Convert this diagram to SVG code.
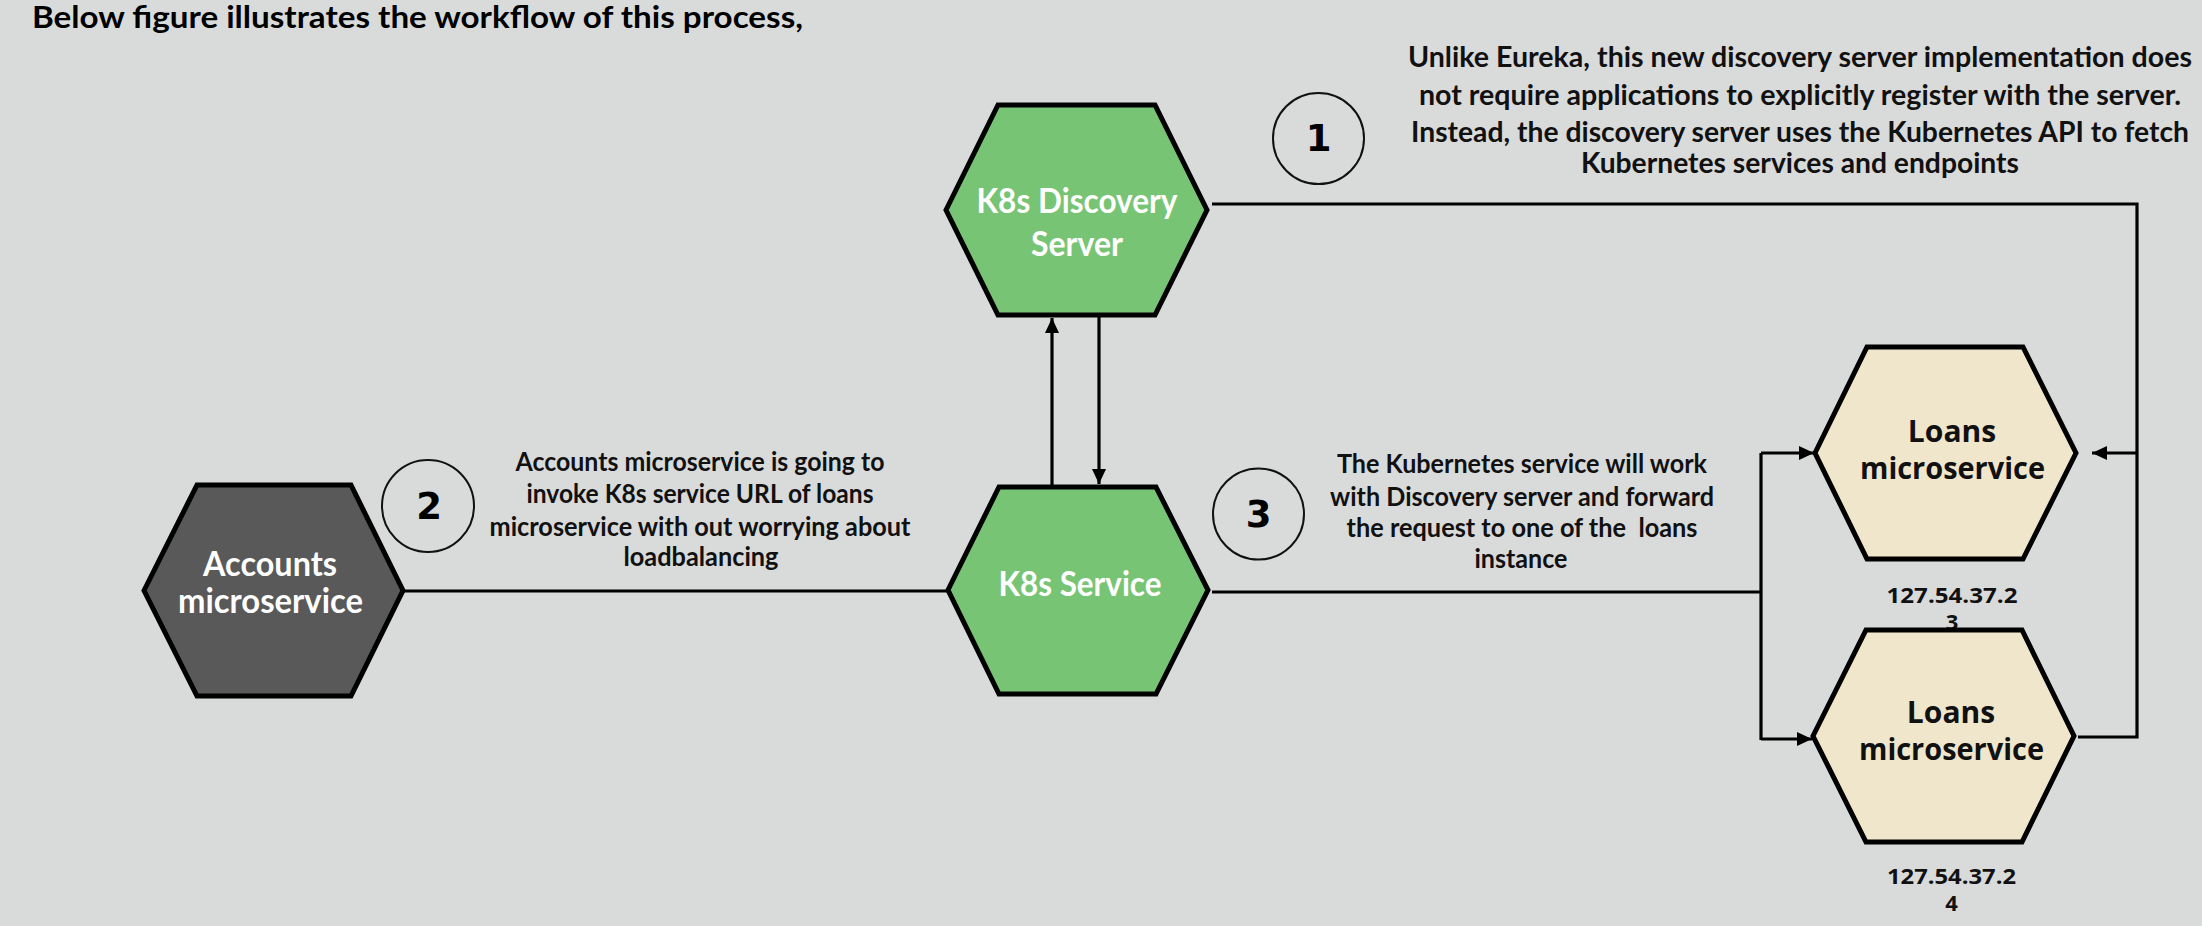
<svg xmlns="http://www.w3.org/2000/svg" width="2202" height="926" viewBox="0 0 2202 926">
  <style>
    .bg { fill: #d9dbda; }
    .hex { stroke: #000; stroke-width: 5; stroke-linejoin: miter; }
    .green { fill: #78c475; }
    .dark { fill: #595959; }
    .loan { fill: #f0e6cb; }
    .wtxt { font-family: Lato, "Liberation Sans", sans-serif; font-weight: bold; font-size: 34px; fill: #ffffff; text-anchor: middle; }
    .ltxt { font-family: "Open Sans", "DejaVu Sans", sans-serif; font-weight: bold; font-size: 30px; fill: #111; text-anchor: middle; }
    .ip { font-family: "Open Sans", "DejaVu Sans", sans-serif; font-weight: bold; font-size: 22px; fill: #111; text-anchor: middle; }
    .note { font-family: Lato, "Liberation Sans", sans-serif; font-weight: bold; font-size: 26px; fill: #111; text-anchor: middle; }
    .note1 { font-family: Lato, "Liberation Sans", sans-serif; font-weight: bold; font-size: 28px; fill: #111; text-anchor: middle; }
    .title { font-family: Lato, "Liberation Sans", sans-serif; font-weight: bold; font-size: 31px; fill: #000; }
    .num { fill: none; stroke: #111; stroke-width: 2; }
    .numtxt { font-family: "DejaVu Sans", sans-serif; font-weight: bold; font-size: 37px; fill: #000; text-anchor: middle; }
    .conn { fill: none; stroke: #000; stroke-width: 3.2; }
  </style>
  <defs>
    <marker id="arrow" markerUnits="userSpaceOnUse" markerWidth="15" markerHeight="14" refX="15" refY="7" orient="auto">
      <path d="M0,0 L15,7 L0,14 z" fill="#000"/>
    </marker>
  </defs>

  <rect class="bg" x="0" y="0" width="2202" height="926"/>

  <text class="title" x="32" y="28" textLength="771" lengthAdjust="spacingAndGlyphs">Below figure illustrates the workflow of this process,</text>

  <g id="connectors">
    <path class="conn" d="M1212,204 H2137 V737 H2078"/>
    <path class="conn" d="M2137,453 H2092" marker-end="url(#arrow)"/>
    <path class="conn" d="M403,591 H948"/>
    <path class="conn" d="M1212,592 H1761"/>
    <path class="conn" d="M1761,453 V740"/>
    <path class="conn" d="M1761,453 H1814" marker-end="url(#arrow)"/>
    <path class="conn" d="M1761,739 H1812" marker-end="url(#arrow)"/>
    <path class="conn" d="M1052,487 V318" marker-end="url(#arrow)"/>
    <path class="conn" d="M1099,316 V484" marker-end="url(#arrow)"/>
  </g>

  <g id="step1">
    <circle class="num" cx="1318.5" cy="138.5" r="45.5"/>
    <text class="numtxt" x="1318.5" y="151">1</text>
    <text class="note1" x="1800" y="67" textLength="784" lengthAdjust="spacingAndGlyphs">Unlike Eureka, this new discovery server implementation does</text>
    <text class="note1" x="1800" y="105" textLength="762" lengthAdjust="spacingAndGlyphs">not require applications to explicitly register with the server.</text>
    <text class="note1" x="1800" y="142" textLength="778" lengthAdjust="spacingAndGlyphs">Instead, the discovery server uses the Kubernetes API to fetch</text>
    <text class="note1" x="1800" y="173" textLength="438" lengthAdjust="spacingAndGlyphs">Kubernetes services and endpoints</text>
  </g>

  <g id="step2">
    <circle class="num" cx="428" cy="506" r="46"/>
    <text class="numtxt" x="429" y="519">2</text>
    <text class="note" x="700" y="471" textLength="369" lengthAdjust="spacingAndGlyphs">Accounts microservice is going to</text>
    <text class="note" x="700" y="503" textLength="347" lengthAdjust="spacingAndGlyphs">invoke K8s service URL of loans</text>
    <text class="note" x="700" y="536" textLength="421" lengthAdjust="spacingAndGlyphs">microservice with out worrying about</text>
    <text class="note" x="701" y="566" textLength="155" lengthAdjust="spacingAndGlyphs">loadbalancing</text>
  </g>

  <g id="step3">
    <circle class="num" cx="1258.5" cy="514" r="45.5"/>
    <text class="numtxt" x="1258.5" y="527">3</text>
    <text class="note" x="1522" y="473" textLength="370" lengthAdjust="spacingAndGlyphs">The Kubernetes service will work</text>
    <text class="note" x="1522" y="506" textLength="384" lengthAdjust="spacingAndGlyphs">with Discovery server and forward</text>
    <text class="note" x="1522" y="537" textLength="351" lengthAdjust="spacingAndGlyphs" style="white-space:pre">the request to one of the  loans</text>
    <text class="note" x="1521" y="568" textLength="93" lengthAdjust="spacingAndGlyphs">instance</text>
  </g>

  <g id="discovery-server">
    <polygon class="hex green" points="946,210 998,105 1155,105 1207,210 1155,315 998,315"/>
    <text class="wtxt" x="1077" y="213" textLength="201" lengthAdjust="spacingAndGlyphs">K8s Discovery</text>
    <text class="wtxt" x="1077" y="256" textLength="92" lengthAdjust="spacingAndGlyphs">Server</text>
  </g>

  <g id="k8s-service">
    <polygon class="hex green" points="948,590 999,487 1156,487 1208,590 1156,694 999,694"/>
    <text class="wtxt" x="1080" y="596" textLength="163" lengthAdjust="spacingAndGlyphs">K8s Service</text>
  </g>

  <g id="accounts">
    <polygon class="hex dark" points="144,590.5 197,485 351,485 403,590.5 351,696 197,696"/>
    <text class="wtxt" x="270" y="576" textLength="134" lengthAdjust="spacingAndGlyphs">Accounts</text>
    <text class="wtxt" x="270.5" y="613" textLength="185" lengthAdjust="spacingAndGlyphs">microservice</text>
  </g>

  <g id="loans-1">
    <polygon class="hex loan" points="1815,453 1867,347 2023,347 2076,453 2023,559 1867,559"/>
    <text class="ltxt" x="1952" y="442">Loans</text>
    <text class="ltxt" x="1952.5" y="479" textLength="185" lengthAdjust="spacingAndGlyphs">microservice</text>
    <text class="ip" x="1952" y="603" textLength="131" lengthAdjust="spacingAndGlyphs">127.54.37.2</text>
    <text class="ip" x="1952" y="630">3</text>
  </g>

  <g id="loans-2">
    <polygon class="hex loan" points="1813,736 1866,630 2022,630 2074,736 2022,842 1866,842"/>
    <text class="ltxt" x="1951" y="723">Loans</text>
    <text class="ltxt" x="1951.5" y="760" textLength="185" lengthAdjust="spacingAndGlyphs">microservice</text>
    <text class="ip" x="1951.5" y="884" textLength="129" lengthAdjust="spacingAndGlyphs">127.54.37.2</text>
    <text class="ip" x="1951.5" y="911">4</text>
  </g>
</svg>
